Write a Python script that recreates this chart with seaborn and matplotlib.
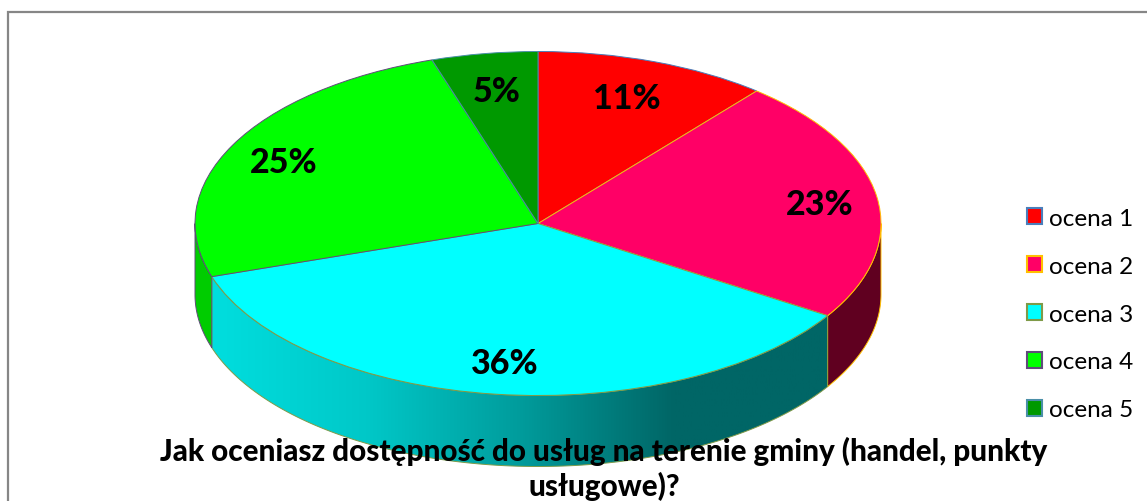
import numpy as np
import matplotlib
matplotlib.use('Agg')
import matplotlib.pyplot as plt
import seaborn as sns
from matplotlib.colors import LinearSegmentedColormap
from matplotlib.patches import Patch, Polygon, Rectangle

categories = ['ocena 1', 'ocena 2', 'ocena 3', 'ocena 4', 'ocena 5']
values = [11, 23, 36, 25, 5]
title = 'Jak oceniasz dostępność do usług na terenie gminy (handel, punkty\nusługowe)?'

colors = ['#ff0000', '#ff0066', '#00ffff', '#00ff00', '#009900']
edges = ['#4a7ebb', '#ffc000', '#7f9a48', '#604a7b', '#4a8fa8']
side_colors = ['#990000', '#600020', None, '#00cc00', '#005c00']

W, H = 1147, 502
CX, CY, RX, RY, DEPTH = 538, 224.5, 343, 172, 71

sns.set_theme(style='white')
plt.rcParams['font.family'] = ['Lato', 'DejaVu Sans']

fig = plt.figure(figsize=(W / 100, H / 100), dpi=100)
ax = fig.add_axes([0, 0, 1, 1])

wedges, _ = ax.pie(values, colors=colors, startangle=90, counterclock=False,
                   radius=1, wedgeprops={'linewidth': 0.7, 'zorder': 3})
for w, e in zip(wedges, edges):
    w.set_edgecolor(e)

xlim = (-CX / RX, (W - CX) / RX)
ylim = (-(H - CY) / RY, CY / RY)
depth = DEPTH / RY

# side wall of the disc, only the front half (90..270 deg from the top) shows
stops = np.cumsum([0] + values) / sum(values) * 360
cyan_ramp = LinearSegmentedColormap.from_list(
    'rim', ['#00dede', '#00c8c8', '#009c9c', '#006666', '#006666'])
for i in range(len(values)):
    a, b = max(stops[i], 90), min(stops[i + 1], 270)
    if a >= b:
        continue
    t = np.radians(np.linspace(a, b, 120))
    top = np.column_stack([np.sin(t), np.cos(t)])
    low = (top - [0, depth])[::-1]
    outline = np.vstack([top, low])
    if side_colors[i] is None:
        poly = Polygon(outline, closed=True, facecolor='none', edgecolor=edges[i],
                       linewidth=0.7, zorder=2)
        ax.add_patch(poly)
        img = ax.imshow(np.linspace(0, 1, 256)[None, :], cmap=cyan_ramp, aspect='auto',
                        extent=(top[:, 0].min(), top[:, 0].max(), -1.6, 0.6), zorder=1.5)
        img.set_clip_path(poly)
    else:
        ax.add_patch(Polygon(outline, closed=True, facecolor=side_colors[i],
                             edgecolor=edges[i], linewidth=0.7, zorder=2))

ax.set_aspect('auto')
ax.set_xlim(xlim)
ax.set_ylim(ylim)
ax.axis('off')


def px(x, y):
    return (x / W, 1 - y / H)


# chart border runs off the right and bottom of the picture
fig.add_artist(Rectangle(px(8, 520), 1.1, 507 / H, transform=fig.transFigure,
                         facecolor='none', edgecolor='#868686', linewidth=1.6))

label_pos = [(627, 97), (820, 203), (505, 362), (284, 161), (497, 90)]
for v, (x, y) in zip(values, label_pos):
    ax.text(*px(x, y + 2), f'{v}%', transform=fig.transFigure, ha='center', va='center',
            fontsize=24.5, fontweight='black', color='black', zorder=5)

ax.text(*px(604, 469), title, transform=fig.transFigure, ha='center', va='center',
        fontsize=21.3, fontweight='black', color='black', linespacing=1.28, zorder=6)

handles = [Patch(facecolor=c, edgecolor=e, linewidth=1.5, label=n)
           for c, e, n in zip(colors, edges, categories)]
ax.legend(handles=handles, loc='center left', bbox_to_anchor=px(1027, 315),
          bbox_transform=fig.transFigure, frameon=False, fontsize=17.5,
          handlelength=0.62, handleheight=0.62, handletextpad=0.27,
          labelspacing=1.11, borderpad=0, borderaxespad=0, labelcolor='black')

fig.savefig('out.png', dpi=100)
